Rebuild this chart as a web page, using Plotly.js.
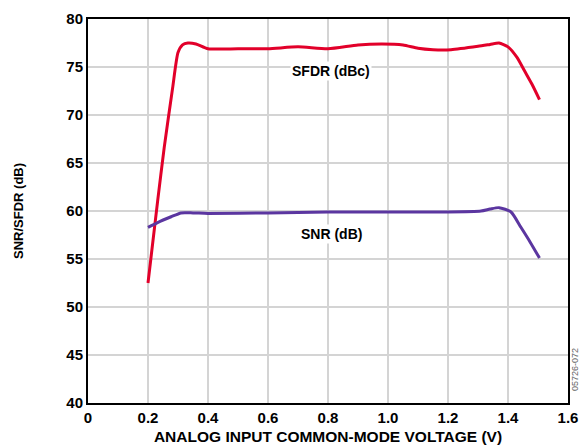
<!DOCTYPE html>
<html>
<head>
<meta charset="utf-8">
<script src="https://cdn.plot.ly/plotly-3.0.1.min.js"></script>
<style>html,body{margin:0;padding:0;background:#fff;}#chart{width:582px;height:447px;}</style>
</head>
<body>
<div id="chart"></div>
<script>
const sfdrX = [0.2, 0.232, 0.254, 0.282, 0.30, 0.315, 0.333, 0.36, 0.40, 0.5, 0.6, 0.7, 0.8, 0.9, 0.98, 1.05, 1.1, 1.15, 1.21, 1.3, 1.34, 1.37, 1.40, 1.43, 1.455, 1.48, 1.505];
const sfdrY = [52.5, 61.0, 66.6, 72.8, 76.5, 77.3, 77.5, 77.4, 76.9, 76.9, 76.9, 77.1, 76.9, 77.3, 77.4, 77.3, 76.95, 76.8, 76.8, 77.15, 77.35, 77.5, 77.1, 76.0, 74.6, 73.2, 71.6];
const snrX = [0.2, 0.232, 0.277, 0.31, 0.35, 0.4, 0.6, 0.8, 1.0, 1.2, 1.31, 1.34, 1.37, 1.41, 1.443, 1.475, 1.505];
const snrY = [58.3, 58.8, 59.4, 59.8, 59.8, 59.75, 59.8, 59.9, 59.9, 59.9, 60.0, 60.2, 60.35, 59.9, 58.3, 56.7, 55.1];
const xTicks = [0, 0.2, 0.4, 0.6, 0.8, 1.0, 1.2, 1.4, 1.6];
const xTickText = ['0', '0.2', '0.4', '0.6', '0.8', '1.0', '1.2', '1.4', '1.6'];
const yTicks = [40, 45, 50, 55, 60, 65, 70, 75, 80];
const yTickText = ['40', '45', '50', '55', '60', '65', '70', '75', '80'];

const fam = 'Liberation Sans, Arial, sans-serif';
const bold = s => '<b>' + s + '</b>';
const traces = [
  {x: sfdrX, y: sfdrY, mode: 'lines', line: {color: '#e2002a', width: 3, shape: 'spline', smoothing: 0.6}, hoverinfo: 'none'},
  {x: snrX, y: snrY, mode: 'lines', line: {color: '#5b36a0', width: 3, shape: 'spline', smoothing: 0.6}, hoverinfo: 'none'}
];
const layout = {
  width: 582, height: 447,
  margin: {l: 88, r: 14, t: 19, b: 44},
  showlegend: false,
  paper_bgcolor: '#fff', plot_bgcolor: '#fff',
  font: {family: fam, size: 14, color: '#000'},
  xaxis: {
    range: [0, 1.6], tickvals: xTicks, ticktext: xTickText.map(bold),
    showgrid: true, gridcolor: '#d4d4d4', gridwidth: 1.5,
    showline: true, linecolor: '#000', linewidth: 2, mirror: true,
    ticks: '', zeroline: false,
    tickfont: {family: fam, size: 15, color: '#000'},
    title: {text: bold('ANALOG INPUT COMMON-MODE VOLTAGE (V)'), font: {family: fam, size: 15.5, color: '#000'}, standoff: 6}
  },
  yaxis: {
    range: [40, 80], tickvals: yTicks, ticktext: yTickText.map(bold),
    showgrid: true, gridcolor: '#d4d4d4', gridwidth: 1.5,
    showline: true, linecolor: '#000', linewidth: 2, mirror: true,
    ticks: '', zeroline: false,
    tickfont: {family: fam, size: 15, color: '#000'},
    title: {text: bold('SNR/SFDR (dB)'), font: {family: fam, size: 13, color: '#000'}, standoff: 40}
  },
  annotations: [
    {x: 0.81, y: 74.6, xref: 'x', yref: 'y', text: bold('SFDR (dBc)'), showarrow: false, bgcolor: '#fff', font: {family: fam, size: 14, color: '#000'}},
    {x: 0.81, y: 57.6, xref: 'x', yref: 'y', text: bold('SNR (dB)'), showarrow: false, bgcolor: '#fff', font: {family: fam, size: 14, color: '#000'}},
    {x: 1.0146, y: 0.086, xref: 'paper', yref: 'paper', text: '05726-072', showarrow: false, textangle: -90, xanchor: 'center', yanchor: 'middle', font: {family: fam, size: 9, color: '#666'}}
  ]
};
Plotly.newPlot('chart', traces, layout, {staticPlot: true});
</script>
</body>
</html>
